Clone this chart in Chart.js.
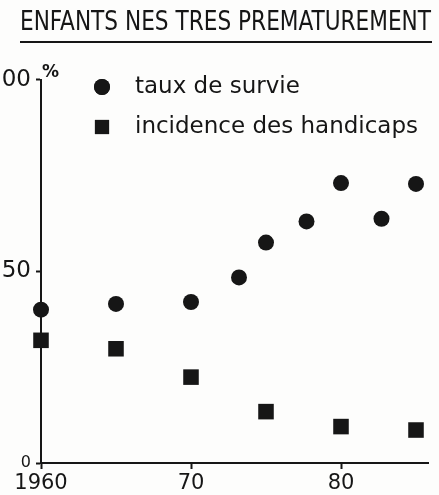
<!DOCTYPE html>
<html>
<head>
<meta charset="utf-8">
<script src="https://cdn.jsdelivr.net/npm/chart.js@4/dist/chart.umd.min.js"></script>
<style>
  html, body { margin: 0; padding: 0; background: #fdfdfc; }
  #wrap { width: 439px; height: 495px; }
</style>
</head>
<body>
<div id="wrap"><canvas id="chart"></canvas></div>
<script>
const titleText = "ENFANTS NES TRES PREMATUREMENT";
const survieLabel = "taux de survie";
const handicapLabel = "incidence des handicaps";

const survieYears = [1960, 1965, 1970, 1973.2, 1975, 1977.7, 1980, 1982.7, 1985];
const survieValues = [40, 41.5, 42, 48.4, 57.5, 63, 73, 63.7, 72.8];

const handicapYears = [1960, 1965, 1970, 1975, 1980, 1985];
const handicapValues = [32, 29.8, 22.4, 13.4, 9.5, 8.6];

const xTicks = [1960, 1970, 1980];
const yTicks = [0, 50, 100];

const ink = "#161616";
const font = "'DejaVu Sans', sans-serif";
const titleFont = "'DejaVu Sans Condensed', 'DejaVu Sans', sans-serif";

function toPoints(xs, ys) {
	return xs.map((x, i) => ({ x: x, y: ys[i] }));
}

// legend drawn inside the plot, under the top of the y axis
const insetLegend = {
	id: "insetLegend",
	afterDatasetsDraw(chart) {
		const ctx = chart.ctx;
		ctx.save();
		ctx.font = "23px " + font;
		ctx.fillStyle = ink;
		ctx.textBaseline = "middle";
		chart.data.datasets.forEach((ds, i) => {
			const y = 87 + i * 40;
			const x = 102;
			Chart.helpers.drawPoint(ctx, {
				pointStyle: ds.pointStyle,
				radius: ds.pointStyle === "rect" ? 10 : 8,
				rotation: 0,
				borderWidth: 0
			}, x, y);
			ctx.fillStyle = ink;
			ctx.fill();
			ctx.fillText(ds.label, 135, y);
		});
		ctx.restore();
	}
};

// underline under the title and the % sign on the axis
const extras = {
	id: "extras",
	afterLayout(chart) {
		// let the y labels run to the canvas edge (the "1" of 100 falls off, as in the print)
		chart.scales.y.left = 0;
	},
	afterDraw(chart) {
		const ctx = chart.ctx;
		const area = chart.chartArea;
		const tb = chart.titleBlock;
		ctx.save();
		ctx.font = "26px " + titleFont;
		const w = Math.min(ctx.measureText(titleText).width, tb.right - tb.left);
		const cx = (tb.left + tb.right) / 2;
		ctx.strokeStyle = ink;
		ctx.lineWidth = 2;
		ctx.beginPath();
		ctx.moveTo(cx - w / 2, 42);
		ctx.lineTo(cx + w / 2 + 1, 42);
		ctx.stroke();
		ctx.font = "bold 17px " + font;
		ctx.fillStyle = ink;
		ctx.textBaseline = "bottom";
		ctx.fillText("%", area.left + 1, area.top + 1);
		ctx.restore();
	}
};

new Chart(document.getElementById("chart"), {
	type: "scatter",
	data: {
		datasets: [
			{
				label: survieLabel,
				data: toPoints(survieYears, survieValues),
				pointStyle: "circle",
				pointRadius: 8,
				pointHoverRadius: 8,
				backgroundColor: ink,
				borderWidth: 0,
				clip: false
			},
			{
				label: handicapLabel,
				data: toPoints(handicapYears, handicapValues),
				pointStyle: "rect",
				pointRadius: 11,
				pointHoverRadius: 11,
				backgroundColor: ink,
				borderWidth: 0,
				clip: false
			}
		]
	},
	options: {
		responsive: true,
		maintainAspectRatio: false,
		animation: false,
		events: [],
		layout: { padding: { left: 20, right: 8, top: 0, bottom: 0 } },
		plugins: {
			legend: { display: false },
			tooltip: { enabled: false },
			title: {
				display: true,
				text: titleText,
				color: ink,
				font: { family: titleFont, size: 26, weight: "normal", lineHeight: 1.1 },
				padding: { top: 9, bottom: 42 }
			}
		},
		scales: {
			x: {
				type: "linear",
				min: 1960,
				max: 1985.8,
				afterFit: (s) => { s.height = 32; },
				afterBuildTicks: (s) => { s.ticks = xTicks.map((v) => ({ value: v })); },
				border: { display: true, color: ink, width: 2 },
				grid: { display: true, drawOnChartArea: false, drawTicks: true, tickLength: 6, tickWidth: 2, tickColor: ink },
				ticks: {
					color: ink,
					font: { family: font, size: 21 },
					padding: 2,
					maxRotation: 0,
					callback: (v) => (v === 1960 ? "1960" : String(v % 100))
				}
			},
			y: {
				min: 0,
				max: 100,
				afterFit: (s) => { s.width = 21; },
				afterBuildTicks: (s) => { s.ticks = yTicks.map((v) => ({ value: v })); },
				border: { display: true, color: ink, width: 2 },
				grid: { display: true, drawOnChartArea: false, drawTicks: true, tickLength: 5, tickWidth: 2, tickColor: ink },
				ticks: {
					color: ink,
					font: (c) => ({ family: font, size: c.tick && c.tick.value === 0 ? 16 : 23 }),
					padding: 5
				}
			}
		}
	},
	plugins: [insetLegend, extras]
});
</script>
</body>
</html>
